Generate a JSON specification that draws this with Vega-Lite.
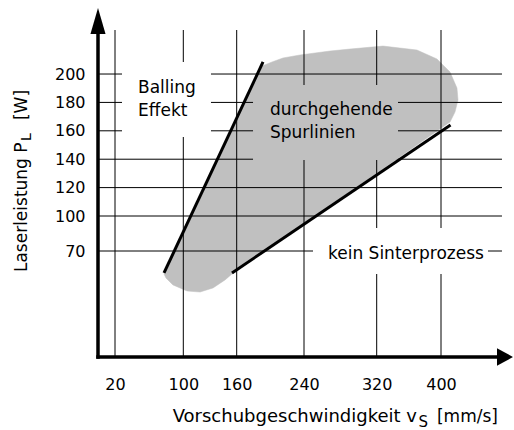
{
  "$schema": "https://vega.github.io/schema/vega-lite/v6.json",
  "width": 416,
  "height": 350,
  "autosize": {"type": "none"},
  "padding": {"left": 98, "top": 8, "right": 0, "bottom": 72},
  "background": "white",
  "config": {
    "view": {"stroke": null},
    "font": "DejaVu Sans",
    "axis": {"domain": false, "ticks": false, "tickSize": 0, "grid": false, "labelFont": "DejaVu Sans", "labelFontSize": 16, "labelColor": "black", "labelFlush": false, "labelOverlap": false, "titleFontSize": 0, "titlePadding": 0},
    "axisX": {"labelPadding": 18},
    "axisY": {"labelPadding": 13}
  },
  "datasets": {
    "blob": [
      {"i": 1, "x": 77.4, "y": 54.8},
      {"i": 2, "x": 190.1, "y": 205.6},
      {"i": 3, "x": 202.0, "y": 208.5},
      {"i": 4, "x": 215.0, "y": 211.3},
      {"i": 5, "x": 235.2, "y": 213.4},
      {"i": 6, "x": 268.6, "y": 216.2},
      {"i": 7, "x": 290.6, "y": 217.6},
      {"i": 8, "x": 327.8, "y": 219.7},
      {"i": 9, "x": 370.1, "y": 216.9},
      {"i": 10, "x": 395.0, "y": 210.6},
      {"i": 11, "x": 410.5, "y": 201.4},
      {"i": 12, "x": 418.6, "y": 190.1},
      {"i": 13, "x": 419.8, "y": 181.7},
      {"i": 14, "x": 416.3, "y": 173.2},
      {"i": 15, "x": 410.5, "y": 166.2},
      {"i": 16, "x": 154.7, "y": 54.8},
      {"i": 17, "x": 146.9, "y": 50.9},
      {"i": 18, "x": 133.4, "y": 45.6},
      {"i": 19, "x": 118.8, "y": 42.9},
      {"i": 20, "x": 104.2, "y": 43.6},
      {"i": 21, "x": 87.9, "y": 47.6},
      {"i": 22, "x": 79.7, "y": 52.2}
    ],
    "gridx": [{"x": 20}, {"x": 100}, {"x": 160}, {"x": 240}, {"x": 320}, {"x": 400}],
    "gridy": [{"y": 70}, {"y": 100}, {"y": 120}, {"y": 140}, {"y": 160}, {"y": 180}, {"y": 200}],
    "whiteboxes": [
      {"x": 28.2, "x2": 131.1, "y": 208.5, "y2": 155.6},
      {"x": 249.9, "x2": 454.7, "y": 89.7, "y2": 54.8}
    ],
    "graybox": [{"x": 179.4, "x2": 346.5, "y": 192.3, "y2": 139.4}],
    "bounds": [
      {"x": 77.4, "y": 55.5, "x2": 191.3, "y2": 208.5},
      {"x": 154.7, "y": 55.5, "x2": 411.1, "y2": 164.1}
    ],
    "labels": [
      {"x": 46.9, "y": 186.6, "text": "Balling"},
      {"x": 46.9, "y": 170.4, "text": "Effekt"},
      {"x": 199.6, "y": 171.1, "text": "durchgehende"},
      {"x": 199.6, "y": 154.9, "text": "Spurlinien"},
      {"x": 266.4, "y": 64.7, "text": "kein Sinterprozess"}
    ]
  },
  "layer": [
    {
      "data": {"name": "blob"},
      "mark": {"type": "line", "interpolate": "linear-closed", "fill": "#c0c0c0", "stroke": "#c0c0c0", "strokeWidth": 0.5},
      "encoding": {
        "x": {
          "field": "x", "type": "quantitative", "title": null,
          "scale": {"domain": [0, 20, 100, 160, 240, 320, 400, 485], "range": [0, 17, 85.3, 138.7, 206, 278.7, 343, 416], "nice": false, "zero": false},
          "axis": {"values": [20, 100, 160, 240, 320, 400], "title": null}
        },
        "y": {
          "field": "y", "type": "quantitative", "title": null,
          "scale": {"domain": [0, 70, 100, 246.5], "range": [349, 243, 208, 0], "nice": false, "zero": false},
          "axis": {"values": [70, 100, 120, 140, 160, 180, 200], "title": null}
        },
        "order": {"field": "i", "type": "quantitative"}
      }
    },
    {
      "data": {"name": "gridx"},
      "mark": {"type": "rule", "color": "black", "strokeWidth": 1},
      "encoding": {
        "x": {"field": "x", "type": "quantitative", "title": null},
        "y": {"datum": 0, "type": "quantitative", "title": null},
        "y2": {"datum": 231}
      }
    },
    {
      "data": {"name": "gridy"},
      "mark": {"type": "rule", "color": "black", "strokeWidth": 1},
      "encoding": {
        "y": {"field": "y", "type": "quantitative", "title": null},
        "x": {"datum": 0, "type": "quantitative", "title": null},
        "x2": {"datum": 471}
      }
    },
    {
      "data": {"name": "whiteboxes"},
      "mark": {"type": "rect", "fill": "white", "strokeWidth": 0},
      "encoding": {
        "x": {"field": "x", "type": "quantitative", "title": null},
        "x2": {"field": "x2", "title": null},
        "y": {"field": "y", "type": "quantitative", "title": null},
        "y2": {"field": "y2", "title": null}
      }
    },
    {
      "data": {"name": "graybox"},
      "mark": {"type": "rect", "fill": "#c0c0c0", "strokeWidth": 0},
      "encoding": {
        "x": {"field": "x", "type": "quantitative", "title": null},
        "x2": {"field": "x2", "title": null},
        "y": {"field": "y", "type": "quantitative", "title": null},
        "y2": {"field": "y2", "title": null}
      }
    },
    {
      "data": {"name": "bounds"},
      "mark": {"type": "rule", "color": "black", "strokeWidth": 3},
      "encoding": {
        "x": {"field": "x", "type": "quantitative", "title": null},
        "x2": {"field": "x2", "title": null},
        "y": {"field": "y", "type": "quantitative", "title": null},
        "y2": {"field": "y2", "title": null}
      }
    },
    {
      "data": {"values": [{"x": 0, "y": 0, "y2": 235}]},
      "mark": {"type": "rule", "color": "black", "strokeWidth": 3.5, "strokeCap": "square"},
      "encoding": {
        "x": {"field": "x", "type": "quantitative", "title": null},
        "y": {"field": "y", "type": "quantitative", "title": null},
        "y2": {"field": "y2", "title": null}
      }
    },
    {
      "data": {"values": [{"x": 0, "x2": 470, "y": 0}]},
      "mark": {"type": "rule", "color": "black", "strokeWidth": 3.5, "strokeCap": "square"},
      "encoding": {
        "x": {"field": "x", "type": "quantitative", "title": null},
        "x2": {"field": "x2", "title": null},
        "y": {"field": "y", "type": "quantitative", "title": null}
      }
    },
    {
      "data": {"values": [{"x": 0, "y": 246.5}]},
      "mark": {"type": "point", "shape": "M0,0L0.58,2L-0.58,2Z", "size": 676, "filled": true, "color": "black", "opacity": 1, "strokeWidth": 0},
      "encoding": {
        "x": {"field": "x", "type": "quantitative", "title": null},
        "y": {"field": "y", "type": "quantitative", "title": null}
      }
    },
    {
      "data": {"values": [{"x": 483.8, "y": 0}]},
      "mark": {"type": "point", "shape": "M0,0L-2,-1.1L-2,1.1Z", "size": 256, "filled": true, "color": "black", "opacity": 1, "strokeWidth": 0},
      "encoding": {
        "x": {"field": "x", "type": "quantitative", "title": null},
        "y": {"field": "y", "type": "quantitative", "title": null}
      }
    },
    {
      "data": {"name": "labels"},
      "mark": {"type": "text", "align": "left", "baseline": "alphabetic", "fontSize": 17, "font": "DejaVu Sans", "color": "black"},
      "encoding": {
        "x": {"field": "x", "type": "quantitative", "title": null},
        "y": {"field": "y", "type": "quantitative", "title": null},
        "text": {"field": "text"}
      }
    },
    {
      "data": {"values": [{"x": 370.1, "y": -42.9, "text": "Vorschubgeschwindigkeit v"}]},
      "mark": {"type": "text", "align": "right", "baseline": "alphabetic", "fontSize": 18, "font": "DejaVu Sans", "color": "black"},
      "encoding": {
        "x": {"field": "x", "type": "quantitative", "title": null},
        "y": {"field": "y", "type": "quantitative", "title": null},
        "text": {"field": "text"}
      }
    },
    {
      "data": {"values": [{"x": 372.0, "y": -45.9, "text": "S"}]},
      "mark": {"type": "text", "align": "left", "baseline": "alphabetic", "fontSize": 15, "font": "DejaVu Sans", "color": "black"},
      "encoding": {
        "x": {"field": "x", "type": "quantitative", "title": null},
        "y": {"field": "y", "type": "quantitative", "title": null},
        "text": {"field": "text"}
      }
    },
    {
      "data": {"values": [{"x": 395.0, "y": -42.9, "text": "[mm/s]"}]},
      "mark": {"type": "text", "align": "left", "baseline": "alphabetic", "fontSize": 17, "font": "DejaVu Sans", "color": "black"},
      "encoding": {
        "x": {"field": "x", "type": "quantitative", "title": null},
        "y": {"field": "y", "type": "quantitative", "title": null},
        "text": {"field": "text"}
      }
    },
    {
      "data": {"values": [{"x": -84.1, "y": 56.1, "text": "Laserleistung P"}]},
      "mark": {"type": "text", "align": "left", "baseline": "alphabetic", "angle": 270, "fontSize": 17, "font": "DejaVu Sans", "color": "black"},
      "encoding": {
        "x": {"field": "x", "type": "quantitative", "title": null},
        "y": {"field": "y", "type": "quantitative", "title": null},
        "text": {"field": "text"}
      }
    },
    {
      "data": {"values": [{"x": -78.8, "y": 152.8, "text": "L"}]},
      "mark": {"type": "text", "align": "left", "baseline": "alphabetic", "angle": 270, "fontSize": 14, "font": "DejaVu Sans", "color": "black"},
      "encoding": {
        "x": {"field": "x", "type": "quantitative", "title": null},
        "y": {"field": "y", "type": "quantitative", "title": null},
        "text": {"field": "text"}
      }
    },
    {
      "data": {"values": [{"x": -84.1, "y": 167.6, "text": "[W]"}]},
      "mark": {"type": "text", "align": "left", "baseline": "alphabetic", "angle": 270, "fontSize": 17, "font": "DejaVu Sans", "color": "black"},
      "encoding": {
        "x": {"field": "x", "type": "quantitative", "title": null},
        "y": {"field": "y", "type": "quantitative", "title": null},
        "text": {"field": "text"}
      }
    }
  ]
}
